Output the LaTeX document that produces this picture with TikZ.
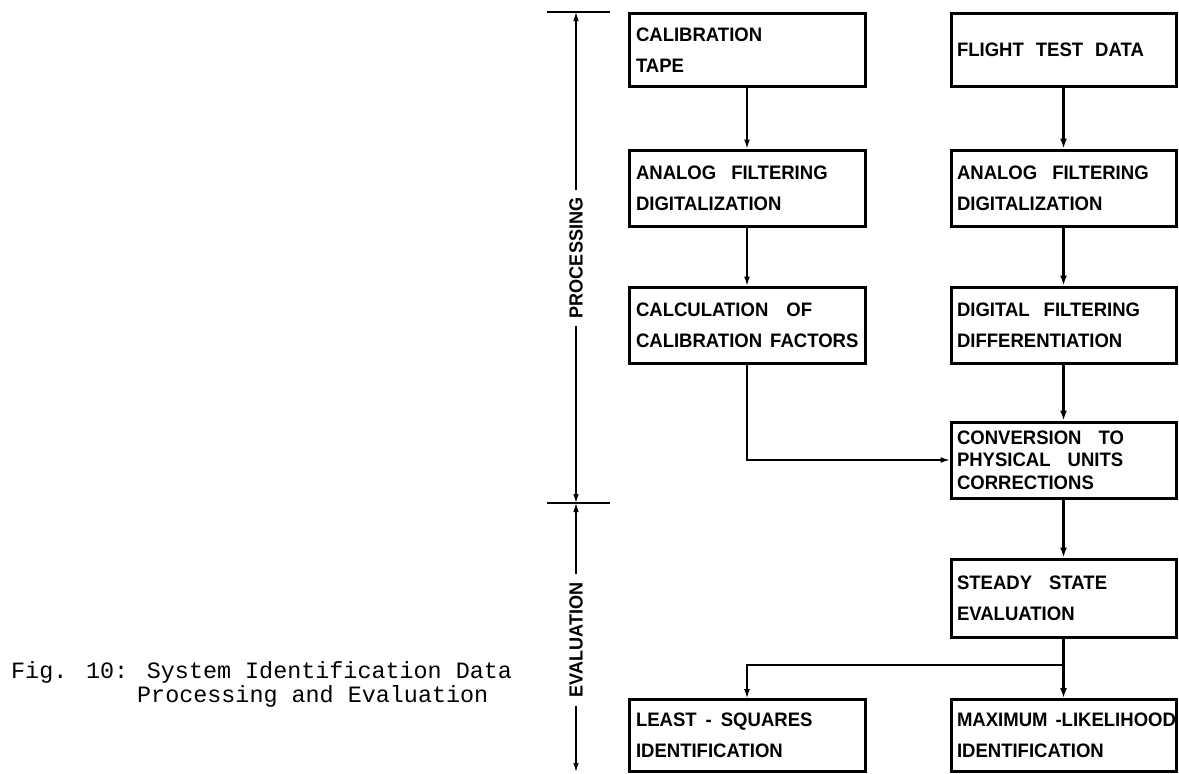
\documentclass[tikz,border=0pt]{standalone}
\usepackage{fontspec}
\setmainfont{Liberation Sans}
\newfontfamily\boxfont[FakeStretch=0.95]{Liberation Sans}
\newfontfamily\capfont{Liberation Mono}
\newcommand\wsp[1]{\nobreak\hspace{#1pt}\nobreak}
\usetikzlibrary{arrows.meta}
\begin{document}
\begin{tikzpicture}[x=1pt,y=-1pt,
  box/.style={draw, line width=3pt, rectangle, inner xsep=6pt, inner ysep=0pt, align=left,
    font=\boxfont\bfseries\fontsize{19.5}{31}\selectfont, minimum height=76pt},
  lbox/.style={box, minimum width=236pt, text width=222pt},
  rbox/.style={box, minimum width=225pt, text width=213pt},
  thinarr/.style={line width=1.3pt, -{Latex[length=9pt,width=6pt]}},
  thickarr/.style={line width=2.4pt, -{Latex[length=10pt,width=7pt]}},
  axis/.style={line width=1.2pt, -{Latex[length=9pt,width=5.5pt]}},
  axlabel/.style={rotate=90, font=\boxfont\bfseries\fontsize{19}{20}\selectfont, inner xsep=8pt, inner ysep=0pt},
  tickline/.style={line width=2pt},
  captext/.style={font=\capfont\fontsize{23.4}{24}\selectfont, anchor=base west, inner sep=0pt}
]
\useasboundingbox (0,0) rectangle (1179,774);

% boxes
\node[lbox, minimum height=73pt] (cal) at (747,50) {CALIBRATION\\TAPE};
\node[rbox, minimum height=73pt] (flt) at (1063.5,50) {FLIGHT\wsp{12}TEST\wsp{12}DATA};
\node[lbox] (anl) at (747,188) {ANALOG\wsp{15}FILTERING\\DIGITALIZATION};
\node[rbox] (anr) at (1063.5,188) {ANALOG\wsp{15}FILTERING\\DIGITALIZATION};
\node[lbox] (calc) at (747,325) {CALCULATION\wsp{18}OF\\CALIBRATION\wsp{8}FACTORS};
\node[rbox] (dig) at (1063.5,325) {DIGITAL\wsp{14}FILTERING\\DIFFERENTIATION};
\node[rbox, font=\boxfont\bfseries\fontsize{19.5}{22.5}\selectfont] (conv) at (1063.5,460) {CONVERSION\wsp{17}TO\\PHYSICAL\wsp{17}UNITS\\CORRECTIONS};
\node[rbox, minimum height=78pt] (std) at (1063.5,598) {STEADY\wsp{17}STATE\\EVALUATION};
\node[lbox, minimum height=72pt] (lsq) at (747,735.5) {LEAST\wsp{9}-\wsp{9}SQUARES\\IDENTIFICATION};
\node[rbox, minimum height=72pt] (mle) at (1063.5,735.5) {\mbox{MAXIMUM\wsp{8}-LIKELIHOOD}\\IDENTIFICATION};

% connectors
\draw[thinarr] (cal) -- (anl);
\draw[thinarr] (anl) -- (calc);
\draw[thinarr] (calc.south) |- (conv.west);
\draw[thickarr] (flt) -- (anr);
\draw[thickarr] (anr) -- (dig);
\draw[thickarr] (dig) -- (conv);
\draw[thickarr] (conv) -- (std);
\coordinate (br) at (std.south |- 0,665);
\draw[line width=2.4pt] (std.south) -- (br);
\draw[thickarr] (br) -- (mle.north);
\draw[thinarr] (br) -| (lsq.north);

% axis
\coordinate (t1) at (576,12);
\coordinate (t2) at (576,503);
\coordinate (t3) at (576,772);
\draw[tickline] ([xshift=-29pt]t1) -- ([xshift=34pt]t1);
\draw[tickline] ([xshift=-29pt]t2) -- ([xshift=34pt]t2);
\node[axlabel] (proc) at (576,258) {PROCESSING};
\node[axlabel] (eval) at (576,640) {EVALUATION};
\draw[axis] (proc.east) -- (t1);
\draw[axis] (proc.west) -- (t2);
\draw[axis] (eval.east) -- (t2);
\draw[axis] (eval.west) -- (t3);

% caption
\node[captext] (cap1) at (11,678) {Fig. 10: System Identification Data};
\node[captext] (cap2) at (137,702) {Processing and Evaluation};
\end{tikzpicture}
\end{document}
